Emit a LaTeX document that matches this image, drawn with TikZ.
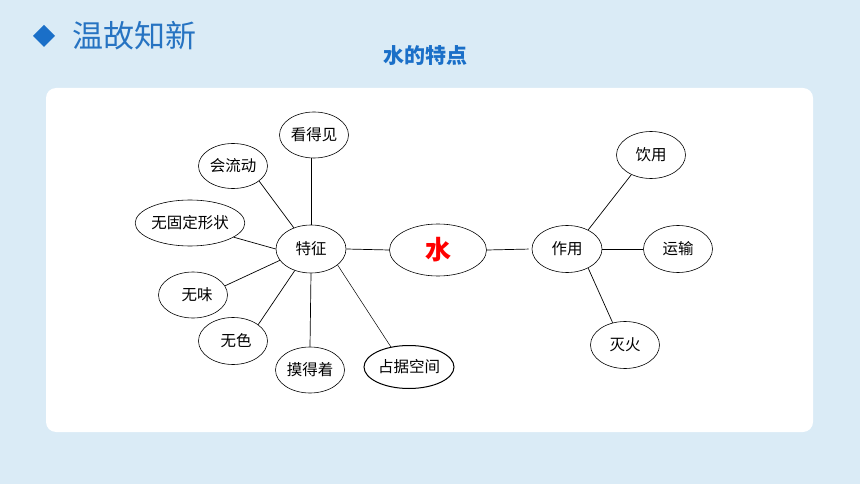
\documentclass[tikz,border=0pt]{standalone}
\usepackage{fontspec}
\newfontfamily\cjk{Noto Sans CJK SC}
\usetikzlibrary{shapes.geometric}
\definecolor{hintergrund}{HTML}{DAEBF6}
\definecolor{titelblau}{HTML}{2673C2}
\definecolor{rautenblau}{HTML}{1A6FC8}

\begin{document}
\begin{tikzpicture}[x=1pt,y=-1pt,
  blase/.style={ellipse,draw,line width=0.6pt,inner sep=0pt,minimum width=69pt,minimum height=46pt,font=\cjk\fontsize{15.5}{18}\selectfont},
  ast/.style={line width=0.7pt}]
  \fill[hintergrund] (0,0) rectangle (860,484);
  \fill[white,rounded corners=10pt] (46,88) rectangle (813,432);
  \fill[rautenblau] (44,25) -- (55,36) -- (44,47) -- (33,36) -- cycle;
  \node[anchor=west,inner sep=0pt,text=titelblau,font=\cjk\fontsize{31}{34}\selectfont] (Titel) at (72,36) {温故知新};
  \node[inner sep=0pt,text=rautenblau,font=\cjk\bfseries\fontsize{21}{24}\selectfont] (Ueberschrift) at (425,56) {水的特点};

  \node[blase,minimum width=97pt,minimum height=52pt,text=red,font=\cjk\bfseries\fontsize{26}{30}\selectfont] (Wasser) at (438,250) {水};
  \node[blase,minimum width=70pt,minimum height=48pt] (Merkmal) at (311,249) {特征};
  \node[blase,minimum width=70pt,minimum height=47pt] (Nutzen) at (567,249) {作用};

  \node[blase] (Sichtbar) at (314,135) {看得见};
  \node[blase,minimum height=45pt] (Fliesst) at (233,166) {会流动};
  \node[blase,minimum width=103pt] (Formlos) at (190,223) {无固定形状};
  \node[blase] (Geruchlos) at (193,295) {\hspace{8pt}无味};
  \node[blase,minimum height=47pt] (Farblos) at (233,341) {\hspace{6pt}无色};
  \node[blase] (Fuehlbar) at (310,370) {摸得着};
  \node[blase,line width=1pt,minimum width=90pt,minimum height=43pt] (Raum) at (409,367) {占据空间};

  \node[blase,minimum height=47pt] (Trinken) at (651,155) {饮用};
  \node[blase,minimum height=47pt] (Transport) at (678,249) {运输};
  \node[blase,minimum height=47pt] (Loeschen) at (625,345) {灭火};

  \draw[ast] (Sichtbar.south -| Merkmal.north) -- (Merkmal.north);
  \draw[ast] (Fliesst.-30) -- (Merkmal.129);
  \draw[ast] (Formlos.-18) -- (Merkmal.180);
  \draw[ast] (Geruchlos.16) -- (Merkmal.200);
  \draw[ast] (Farblos.33) -- (Merkmal.233);
  \draw[ast] (Fuehlbar.north) -- (Merkmal.south);
  \draw[line width=0.5pt] (Raum.132) -- (Merkmal.-31);
  \draw[ast] (Merkmal.east) -- (Wasser.west);
  \draw[ast,shorten >=3pt] (Wasser.east) -- (Nutzen.west);

  \draw[ast] (Nutzen.42) -- (Trinken.225);
  \draw[ast] (Nutzen.east) -- (Transport.west);
  \draw[ast] (Nutzen.-42) -- (Loeschen.119);
\end{tikzpicture}
\end{document}
